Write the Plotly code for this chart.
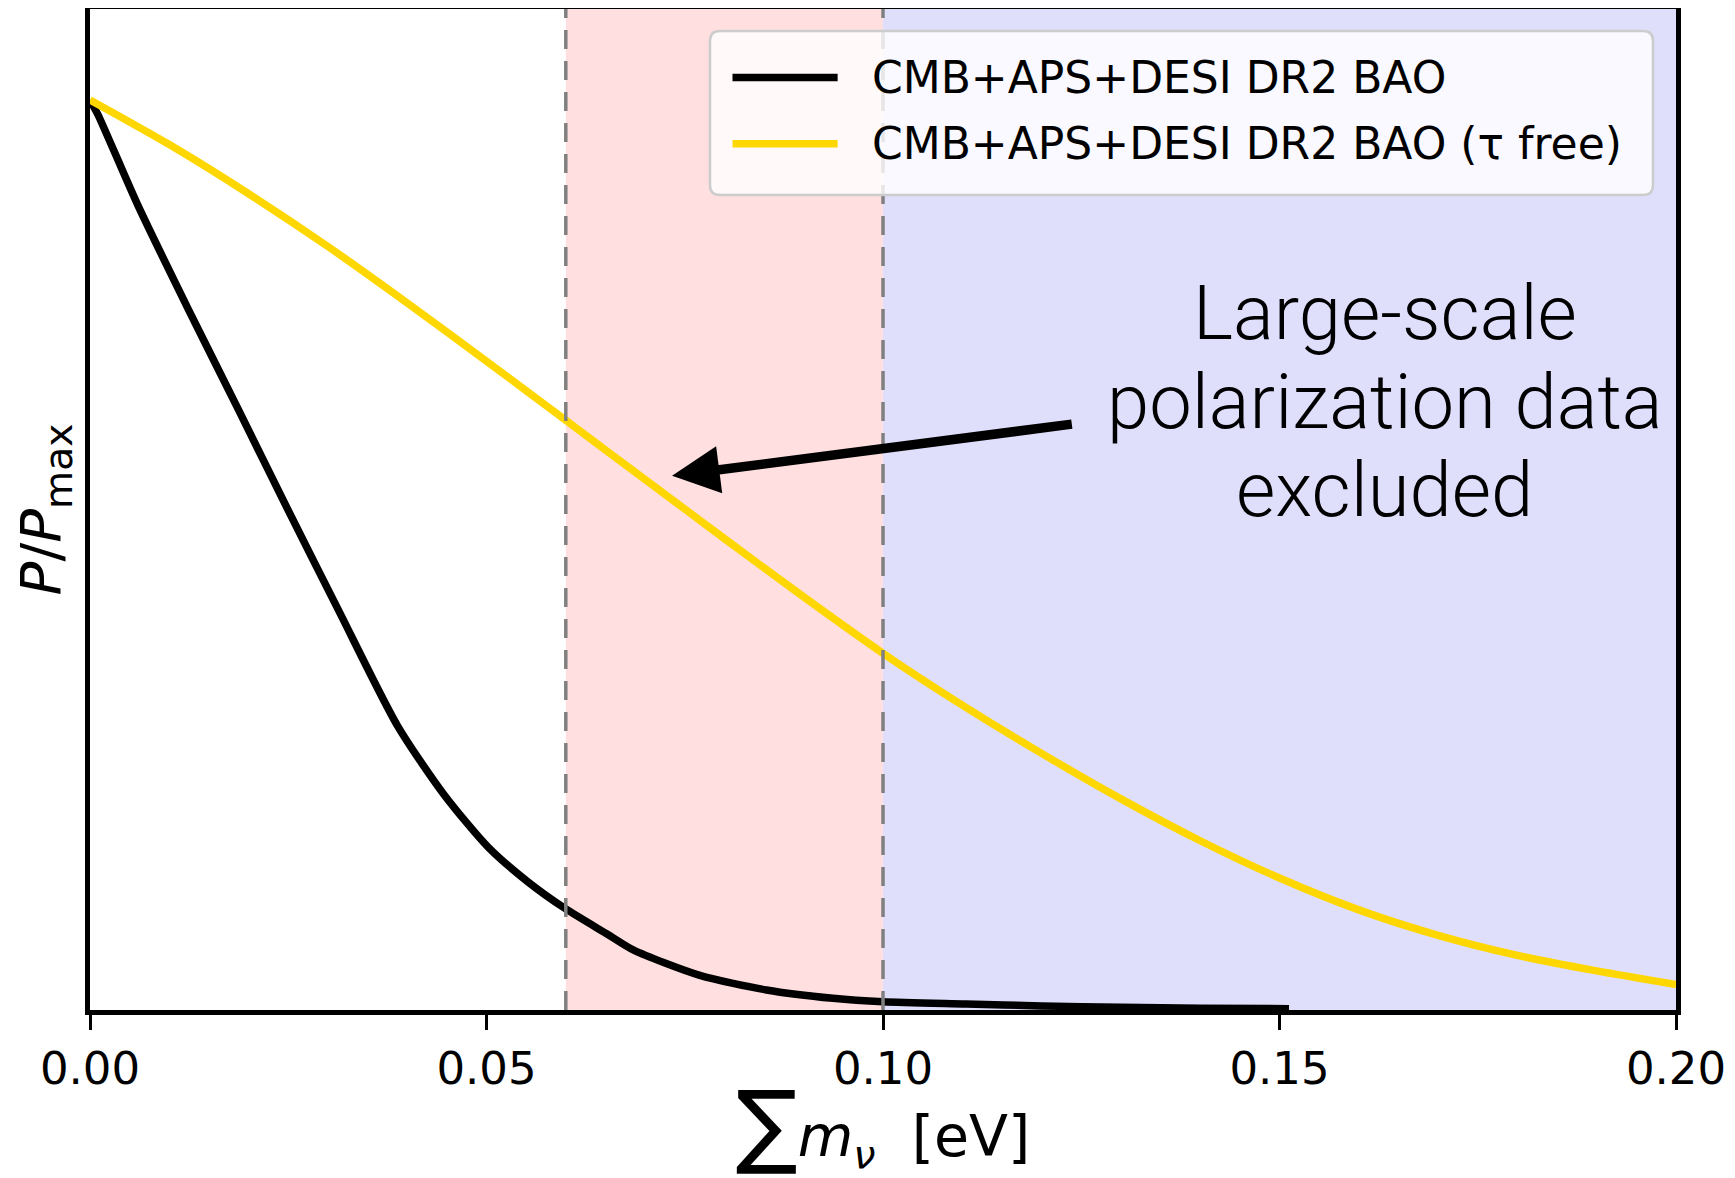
import plotly.graph_objects as go

# ---- data ----
x_black = [0.0, 0.001, 0.006, 0.0124, 0.0187, 0.025, 0.0313, 0.0388, 0.0447, 0.0502,
           0.0552, 0.060, 0.0653, 0.0685, 0.0769, 0.0853, 0.0937, 0.100, 0.1105, 0.120,
           0.130, 0.140, 0.1512]
y_black = [1.0, 0.984, 0.885, 0.770, 0.660, 0.549, 0.440, 0.312, 0.236, 0.179,
           0.141, 0.111, 0.083, 0.066, 0.038, 0.022, 0.0128, 0.009, 0.0066, 0.0045,
           0.003, 0.002, 0.0015]

x_gold = [0.0, 0.01, 0.02, 0.03, 0.04, 0.05, 0.06, 0.07, 0.08, 0.09, 0.10,
          0.11, 0.12, 0.13, 0.14, 0.15, 0.16, 0.17, 0.18, 0.19, 0.20]
y_gold = [1.0, 0.951, 0.897, 0.839, 0.777, 0.713, 0.648, 0.583, 0.518, 0.454, 0.392,
          0.335, 0.282, 0.232, 0.186, 0.145, 0.110, 0.082, 0.060, 0.043, 0.028]

series_names = ["CMB+APS+DESI DR2 BAO", "CMB+APS+DESI DR2 BAO (τ free)"]
series_colors = ["black", "#FFD700"]
x_ticks = [0.0, 0.05, 0.10, 0.15, 0.20]
x_ticklabels = ["0.00", "0.05", "0.10", "0.15", "0.20"]
red_band = [0.06, 0.10]
blue_band = [0.10, 0.20]
y_max = 1.1
arrow_tip = (0.0734, 0.587)
arrow_tail = (0.124, 0.644)
note_lines = ["Large-scale", "polarization data", "excluded"]

fig = go.Figure()
fig.add_trace(go.Scatter(x=x_black, y=y_black, mode="lines", name=series_names[0],
                         line=dict(color=series_colors[0], width=7.5, shape="spline", smoothing=0.7)))
fig.add_trace(go.Scatter(x=x_gold, y=y_gold, mode="lines", name=series_names[1],
                         line=dict(color=series_colors[1], width=7.5, shape="spline", smoothing=0.7)))

# shaded bands
fig.add_shape(type="rect", x0=red_band[0], x1=red_band[1], y0=0, y1=y_max,
              xref="x", yref="y", fillcolor="#FFDFE0", line_width=0, layer="below")
fig.add_shape(type="rect", x0=blue_band[0], x1=blue_band[1], y0=0, y1=y_max,
              xref="x", yref="y", fillcolor="#DFDFFC", line_width=0, layer="below")
for xv in red_band:
    fig.add_shape(type="line", x0=xv, x1=xv, y0=0, y1=y_max, xref="x", yref="y",
                  line=dict(color="#808080", width=3.5, dash="19px,12px"), layer="above")

# ---- legend box (matplotlib style, rounded) ----
bx0, bx1, by0, by1 = 0.3909, 0.9855, 0.8142, 0.978
rx, ry = 0.0063, 0.010
path = (f"M {bx0+rx},{by0} L {bx1-rx},{by0} Q {bx1},{by0} {bx1},{by0+ry} "
        f"L {bx1},{by1-ry} Q {bx1},{by1} {bx1-rx},{by1} L {bx0+rx},{by1} "
        f"Q {bx0},{by1} {bx0},{by1-ry} L {bx0},{by0+ry} Q {bx0},{by0} {bx0+rx},{by0} Z")
fig.add_shape(type="path", path=path, xref="paper", yref="paper",
              fillcolor="rgba(255,255,255,0.8)", line=dict(color="#CCCCCC", width=2.5),
              layer="above")
legend_rows = [0.9316, 0.8653]
for name, color, yy in zip(series_names, series_colors, legend_rows):
    fig.add_shape(type="line", x0=0.4051, x1=0.4714, y0=yy, y1=yy, xref="paper", yref="paper",
                  line=dict(color=color, width=7.5), layer="above")
    fig.add_annotation(x=0.4918, y=yy, xref="paper", yref="paper", text=name,
                       showarrow=False, xanchor="left", yanchor="middle",
                       font=dict(family="DejaVu Sans", size=44, color="black"))

# arrow
fig.add_annotation(x=arrow_tip[0], y=arrow_tip[1], ax=arrow_tail[0], ay=arrow_tail[1],
                   xref="x", yref="y", axref="x", ayref="y", text="",
                   showarrow=True, arrowhead=2, arrowsize=1.0, arrowwidth=9.5,
                   arrowcolor="black", standoff=0)
# note text
for line_text, yy in zip(note_lines, [0.6963, 0.6074, 0.5195]):
    fig.add_annotation(x=0.8165, y=yy, xref="paper", yref="paper", text=line_text,
                       showarrow=False, xanchor="center", yanchor="middle", align="center",
                       font=dict(family="Roboto", size=76, color="black", weight=300))

# page body has an 8px margin: compensate in size / margins
fig.update_layout(
    width=1727, height=1170,
    margin=dict(l=82, r=59, t=1, b=168, autoexpand=False),
    paper_bgcolor="white", plot_bgcolor="white",
    font=dict(family="DejaVu Sans", color="black"),
    showlegend=False,
)
fig.update_xaxes(range=[0, 0.2], tickvals=x_ticks, ticktext=x_ticklabels,
                 ticks="outside", ticklen=15, tickwidth=2.5, tickcolor="black",
                 tickfont=dict(size=45, family="DejaVu Sans"),
                 showline=True, linecolor="black", linewidth=4.5, mirror=True,
                 showgrid=False, zeroline=False, automargin=False,
                 title=dict(text="<span style='font-size:92px'>∑</span><i>m</i><sub><i>ν</i></sub>  [eV]",
                            font=dict(size=57, family="DejaVu Sans"), standoff=4))
fig.update_yaxes(range=[0, y_max], showticklabels=False, ticks="",
                 showline=True, linecolor="black", linewidth=4.5, mirror=True,
                 showgrid=False, zeroline=False, automargin=False,
                 title=dict(text="<i>P</i>/<i>P</i><sub>max</sub>",
                            font=dict(size=56, family="DejaVu Sans"), standoff=18))

fig.write_html("out.html")
